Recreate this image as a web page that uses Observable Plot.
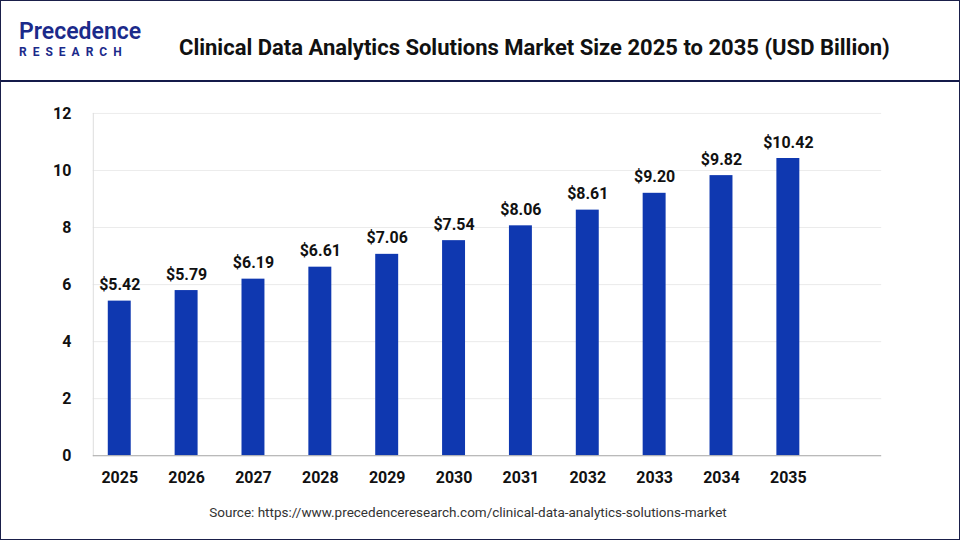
<!DOCTYPE html>
<html><head><meta charset="utf-8">
<script src="https://cdn.jsdelivr.net/npm/d3@7"></script>
<script src="https://cdn.jsdelivr.net/npm/@observablehq/plot@0.6"></script>
<style>
body{margin:0;font-family:Roboto,"Liberation Sans",Arial,sans-serif;}
#wrap{position:relative;width:958px;height:538px;border:1px solid #1a1f4a;background:#fff;overflow:hidden;}
#head{height:79px;border-bottom:2px solid #141a4a;position:relative;}
#logo{position:absolute;left:18px;top:18px;line-height:1.1;}
#logo .p{font-size:23px;font-weight:600;color:#1b2a8a;}
#logo .r{font-size:12px;font-weight:700;color:#1b2a8a;letter-spacing:6px;margin-top:2px;}
#title{position:absolute;left:178px;top:34px;font-size:22px;font-weight:700;color:#111;white-space:nowrap;}
#src{position:absolute;left:0;width:934px;top:503px;text-align:center;font-size:13.5px;color:#333;}
#chart{position:absolute;left:0;top:81px;}
</style></head><body>
<div id="wrap">
<div id="head"><div id="logo"><div class="p">Precedence</div><div class="r">RESEARCH</div></div>
<div id="title">Clinical Data Analytics Solutions Market Size 2025 to 2035 (USD Billion)</div></div>
<div id="chart"></div>
<div id="src">Source: https://www.precedenceresearch.com/clinical-data-analytics-solutions-market</div>
</div>
<script>
const years = ["2025","2026","2027","2028","2029","2030","2031","2032","2033","2034","2035"];
const values = [5.42,5.79,6.19,6.61,7.06,7.54,8.06,8.61,9.20,9.82,10.42];
const yTicks = [0,2,4,6,8,10,12];
const data = years.map((y,i)=>({year:y,value:values[i]}));
const plot = Plot.plot({
  width:960,height:412,marginLeft:92,marginRight:78,marginTop:31,marginBottom:38,
  style:{fontFamily:"Roboto, 'Liberation Sans', Arial, sans-serif",fontSize:"16px",color:"#111"},
  x:{domain:[...years," "],paddingInner:0.65,paddingOuter:0.2,align:0.5,label:null,tickSize:0,tickPadding:16},
  y:{domain:[0,12],ticks:yTicks,label:null,tickSize:0,tickPadding:22},
  marks:[
    Plot.gridY(yTicks,{stroke:"#ddd",strokeOpacity:0.6}),
    Plot.frame({anchor:"left",stroke:"#ddd"}),
    Plot.barY(data,{x:"year",y:"value",fill:"#0f38b0"}),
    Plot.text(data,{x:"year",y:"value",text:d=>"$"+d.value.toFixed(2),dy:-16,fontSize:16,fontWeight:700,fill:"#111"}),
    Plot.ruleY([0],{stroke:"#aaa"})
  ]
});
plot.querySelectorAll("[aria-label='x-axis tick label'], [aria-label='y-axis tick label']").forEach(g=>g.setAttribute("font-weight","700"));
document.getElementById("chart").appendChild(plot);
</script>
</body></html>
